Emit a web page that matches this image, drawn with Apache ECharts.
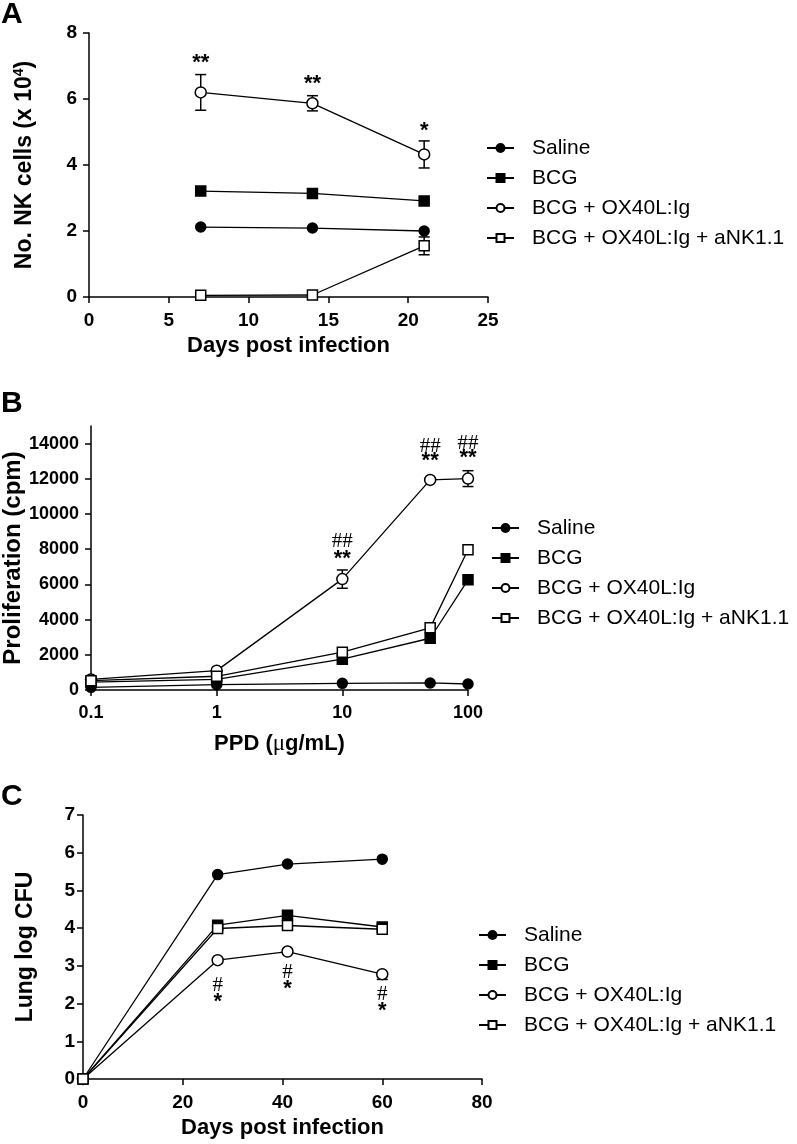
<!DOCTYPE html>
<html>
<head>
<meta charset="utf-8">
<script src="https://cdn.jsdelivr.net/npm/echarts@6/dist/echarts.min.js"></script>
<style>
html,body{margin:0;padding:0;background:#fff;}
#chart{width:797px;height:1144px;}
</style>
</head>
<body>
<div id="chart"></div>
<script>
// ---------- data ----------
const groups = ['Saline', 'BCG', 'BCG + OX40L:Ig', 'BCG + OX40L:Ig + aNK1.1'];

// Panel A: NK cells (x 10^4) vs days post infection
const daysA = [7, 14, 21];
const nkSaline = [2.12, 2.09, 2.00];
const nkBCG = [3.21, 3.14, 2.91];
const nkOX40L = [6.20, 5.87, 4.32];
const nkNK11 = [0.05, 0.06, 1.55];
const nkErrOX40L = [0.54, 0.23, 0.41];
const nkErrNK11 = [0, 0, 0.27];
const annotA = [[7, 7.09, '**'], [14, 6.45, '**'], [21, 5.03, '*']];
const xTicksA = [0, 5, 10, 15, 20, 25];
const yTicksA = [0, 2, 4, 6, 8];

// Panel B: proliferation (cpm) vs PPD (ug/mL)
const ppd = [0.1, 1, 10, 50, 100];
const prolSaline = [150, 300, 380, 400, 340];
const prolBCG = [450, 600, 1750, 2940, 6260];
const prolOX40L = [600, 1100, 6300, 11935, 12010];
const prolNK11 = [530, 780, 2150, 3530, 7970];
const prolErrOX40L = [0, 0, 520, 0, 450];
const annotBHash = [[10, 8450, '##'], [50, 13850, '##'], [100, 14020, '##']];
const annotBStar = [[10, 7440, '**'], [50, 12990, '**'], [100, 13200, '**']];
const yTicksB = [0, 2000, 4000, 6000, 8000, 10000, 12000, 14000];

// Panel C: lung log CFU vs days post infection
const daysC = [0, 27, 41, 60];
const cfuSaline = [0, 5.42, 5.70, 5.83];
const cfuBCG = [0, 4.08, 4.34, 4.03];
const cfuOX40L = [0, 3.15, 3.38, 2.78];
const cfuNK11 = [0, 3.99, 4.07, 3.97];
const cfuErrLowOX40L = [0, 0, 0, 0.14];
const annotCHash = [[27, 2.49, '#'], [41, 2.83, '#'], [60, 2.25, '#']];
const annotCStar = [[27, 2.04, '*'], [41, 2.38, '*'], [60, 1.80, '*']];

// ---------- styling helpers ----------
const F = '"Liberation Sans", Arial, Helvetica, sans-serif';
const FS = '"Liberation Serif", "Times New Roman", serif';
const symbolOf = ['circle', 'rect', 'circle', 'rect'];
const filledOf = [true, true, false, false];
const sizeOf = [10, 10, 11, 10];

function pairs(xs, ys) { return xs.map((x, i) => [x, ys[i]]); }

function lineSeries(gi, xs, ys, axisIdx) {
  const filled = filledOf[gi];
  return {
    type: 'line', name: groups[gi],
    xAxisIndex: axisIdx, yAxisIndex: axisIdx,
    data: pairs(xs, ys),
    symbol: symbolOf[gi], symbolSize: sizeOf[gi], showAllSymbol: true,
    lineStyle: { color: '#000', width: 1.3 },
    itemStyle: { color: filled ? '#000' : '#fff', borderColor: '#000', borderWidth: 1.5 },
    emphasis: { disabled: true },
    z: 3 + gi * 0.01
  };
}

function errSeries(xs, ys, lo, hi, axisIdx) {
  const data = [];
  xs.forEach((x, i) => { if (lo[i] > 0 || hi[i] > 0) data.push([x, ys[i], lo[i], hi[i]]); });
  return {
    type: 'custom', name: 'err', xAxisIndex: axisIdx, yAxisIndex: axisIdx,
    encode: { x: 0, y: 1 }, z: 1, silent: true,
    data,
    renderItem: function (params, api) {
      const x = api.value(0), y = api.value(1), l = api.value(2), h = api.value(3);
      const c = api.coord([x, y]);
      const pl = api.coord([x, y - l]);
      const ph = api.coord([x, y + h]);
      const w = 5.5;
      const st = { stroke: '#000', lineWidth: 1.5, fill: null };
      const ch = [{ type: 'line', shape: { x1: c[0], y1: pl[1], x2: c[0], y2: ph[1] }, style: st }];
      if (l > 0) ch.push({ type: 'line', shape: { x1: c[0] - w, y1: pl[1], x2: c[0] + w, y2: pl[1] }, style: st });
      if (h > 0) ch.push({ type: 'line', shape: { x1: c[0] - w, y1: ph[1], x2: c[0] + w, y2: ph[1] }, style: st });
      return { type: 'group', children: ch };
    }
  };
}

function annotSeries(items, axisIdx, font) {
  return {
    type: 'custom', name: 'annot', xAxisIndex: axisIdx, yAxisIndex: axisIdx,
    encode: { x: 0, y: 1 }, z: 10, silent: true,
    data: items.map(a => [a[0], a[1]]),
    renderItem: function (params, api) {
      const p = api.coord([api.value(0), api.value(1)]);
      return {
        type: 'text', x: p[0], y: p[1],
        style: { text: items[params.dataIndex][2], font: font, fill: '#000', align: 'center', verticalAlign: 'middle' }
      };
    }
  };
}

const axisLineS = { show: true, onZero: false, lineStyle: { color: '#000', width: 1.5 } };
const axisTickS = { show: true, inside: false, length: 6, lineStyle: { color: '#000', width: 1.5 } };

function labelS(size, margin) {
  return { color: '#000', fontWeight: 'bold', fontSize: size, fontFamily: F, margin: margin };
}
function nameS(size) {
  return { color: '#000', fontWeight: 'bold', fontSize: size, fontFamily: F };
}

function legendAt(left, top) {
  return {
    data: groups, orient: 'vertical', left: left, top: top,
    itemWidth: 27, itemHeight: 10, itemGap: 0, padding: 0, selectedMode: false,
    textStyle: { fontSize: 21, color: '#000', fontFamily: F, lineHeight: 30, padding: [0, 0, 0, 13] }
  };
}

const option = {
  animation: false,
  backgroundColor: '#fff',
  title: [
    { text: 'A', left: 1, top: 0, padding: 0, textStyle: { fontSize: 30, fontWeight: 'bold', fontFamily: F, color: '#000' } },
    { text: 'B', left: 1, top: 389, padding: 0, textStyle: { fontSize: 30, fontWeight: 'bold', fontFamily: F, color: '#000' } },
    { text: 'C', left: 1, top: 782, padding: 0, textStyle: { fontSize: 30, fontWeight: 'bold', fontFamily: F, color: '#000' } }
  ],
  legend: [legendAt(486, 133), legendAt(491, 513), legendAt(478, 920)],
  grid: [
    { left: 89, top: 33, width: 399, height: 264 },
    { left: 91, top: 426, width: 377, height: 264 },
    { left: 83, top: 815, width: 399, height: 264 }
  ],
  xAxis: [
    {
      gridIndex: 0, type: 'value', min: 0, max: 25, interval: 5,
      axisLine: axisLineS, axisTick: axisTickS, splitLine: { show: false },
      axisLabel: Object.assign(labelS(19, 14), { customValues: xTicksA }),
      name: 'Days post infection', nameLocation: 'middle', nameGap: 38, nameTextStyle: nameS(22)
    },
    {
      gridIndex: 1, type: 'log', logBase: 10, min: 0.1, max: 100,
      axisLine: axisLineS, axisTick: axisTickS, splitLine: { show: false }, minorTick: { show: false },
      axisLabel: Object.assign(labelS(18, 14), { formatter: v => String(+Number(v).toPrecision(3)) }),
      name: 'PPD ({mu|μ}g/mL)', nameLocation: 'middle', nameGap: 42,
      nameTextStyle: Object.assign(nameS(22), { rich: { mu: { fontFamily: FS, fontWeight: 'normal', fontSize: 23, color: '#000' } } })
    },
    {
      gridIndex: 2, type: 'value', min: 0, max: 80, interval: 20,
      axisLine: axisLineS, axisTick: axisTickS, splitLine: { show: false },
      axisLabel: labelS(19, 14),
      name: 'Days post infection', nameLocation: 'middle', nameGap: 38, nameTextStyle: nameS(22)
    }
  ],
  yAxis: [
    {
      gridIndex: 0, type: 'value', min: 0, max: 8, interval: 2,
      axisLine: axisLineS, axisTick: axisTickS, splitLine: { show: false },
      axisLabel: Object.assign(labelS(19, 12), { customValues: yTicksA }),
      name: 'No. NK cells (x 10{sup|4})', nameLocation: 'middle', nameGap: 51,
      nameTextStyle: Object.assign(nameS(23), { lineHeight: 26, rich: { sup: { fontSize: 14, fontWeight: 'bold', fontFamily: F, color: '#000', lineHeight: 14, verticalAlign: 'top' } } })
    },
    {
      gridIndex: 1, type: 'value', min: 0, max: 15000,
      axisLine: axisLineS,
      axisTick: Object.assign({}, axisTickS, { customValues: yTicksB }),
      splitLine: { show: false },
      axisLabel: Object.assign(labelS(18, 12), { customValues: yTicksB, formatter: v => String(v) }),
      name: 'Proliferation (cpm)', nameLocation: 'middle', nameGap: 66, nameTextStyle: nameS(24)
    },
    {
      gridIndex: 2, type: 'value', min: 0, max: 7, interval: 1,
      axisLine: axisLineS, axisTick: axisTickS, splitLine: { show: false },
      axisLabel: labelS(19, 8),
      name: 'Lung log CFU', nameLocation: 'middle', nameGap: 46, nameTextStyle: nameS(23)
    }
  ],
  series: [
    // Panel A
    errSeries(daysA, nkOX40L, nkErrOX40L, nkErrOX40L, 0),
    errSeries(daysA, nkNK11, nkErrNK11, nkErrNK11, 0),
    lineSeries(0, daysA, nkSaline, 0),
    lineSeries(1, daysA, nkBCG, 0),
    lineSeries(2, daysA, nkOX40L, 0),
    lineSeries(3, daysA, nkNK11, 0),
    annotSeries(annotA, 0, 'bold 22px ' + F),
    // Panel B
    errSeries(ppd, prolOX40L, prolErrOX40L, prolErrOX40L, 1),
    lineSeries(0, ppd, prolSaline, 1),
    lineSeries(1, ppd, prolBCG, 1),
    lineSeries(2, ppd, prolOX40L, 1),
    lineSeries(3, ppd, prolNK11, 1),
    annotSeries(annotBHash, 1, '21px ' + FS),
    annotSeries(annotBStar, 1, 'bold 22px ' + F),
    // Panel C
    errSeries(daysC, cfuOX40L, cfuErrLowOX40L, daysC.map(() => 0), 2),
    lineSeries(0, daysC, cfuSaline, 2),
    lineSeries(1, daysC, cfuBCG, 2),
    lineSeries(2, daysC, cfuOX40L, 2),
    lineSeries(3, daysC, cfuNK11, 2),
    annotSeries(annotCHash, 2, '21px ' + FS),
    annotSeries(annotCStar, 2, 'bold 22px ' + F)
  ]
};

const chart = echarts.init(document.getElementById('chart'), null, { renderer: 'canvas' });
chart.setOption(option);
</script>
</body>
</html>
